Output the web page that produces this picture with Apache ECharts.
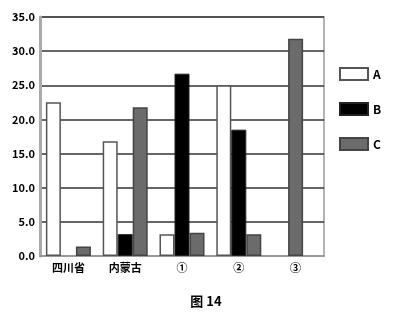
<!DOCTYPE html>
<html><head><meta charset="utf-8">
<script src="https://cdn.jsdelivr.net/npm/echarts@6/dist/echarts.min.js"></script>
<style>html,body{margin:0;padding:0;background:#fff}#c{width:412px;height:315px}</style>
</head><body><div id="c"></div>
<script>
var categories = ['四川省', '内蒙古', '①', '②', '③'];
var seriesA = [22.5, 16.8, 3.2, 25.0, 0];
var seriesB = [0, 3.2, 26.7, 18.5, 0];
var seriesC = [1.4, 21.8, 3.4, 3.2, 31.8];
var seriesNames = ['A', 'B', 'C'];
var yTicks = [0, 5, 10, 15, 20, 25, 30, 35];

function blankZero(arr) { return arr.map(function (v) { return v === 0 ? '-' : v; }); }
// where only C exists in a category, the original draws that C bar centred
var alone = seriesC.map(function (v, i) { return seriesA[i] === 0 && seriesB[i] === 0; });
var cGrouped = seriesC.map(function (v, i) { return alone[i] || v === 0 ? '-' : v; });
var cCentred = seriesC.map(function (v, i) { return alone[i] ? v : '-'; });

var chart = echarts.init(document.getElementById('c'));
var font = '"Noto Sans CJK SC", "DejaVu Sans", sans-serif';
var bw = 15;
var styleA = {color: '#fff', borderColor: '#555', borderWidth: 1.5};
var styleB = {color: '#000', borderColor: '#222', borderWidth: 1};
var styleC = {color: '#6b6b6b', borderColor: '#444', borderWidth: 1.5};
chart.setOption({
  animation: false,
  backgroundColor: '#fff',
  title: {text: '图 14', left: 'center', top: 290, textStyle: {fontSize: 13, fontWeight: 'bold', color: '#000', fontFamily: font}},
  legend: {
    orient: 'vertical', left: 334, top: 62, itemWidth: 28, itemHeight: 12, itemGap: 21, icon: 'rect',
    textStyle: {fontSize: 12, fontWeight: 'bold', color: '#000', fontFamily: font},
    data: seriesNames
  },
  grid: {left: 40, right: 88, top: 17, bottom: 59, show: true, borderColor: '#999', borderWidth: 1.5},
  xAxis: [{
    type: 'category', data: categories,
    axisLine: {lineStyle: {color: '#999', width: 2}},
    axisTick: {show: false},
    axisLabel: {fontSize: 11, fontWeight: 'bold', color: '#000', fontFamily: font, margin: 6}
  }, {
    type: 'category', data: categories, show: false, position: 'bottom'
  }],
  yAxis: {
    type: 'value', min: yTicks[0], max: yTicks[yTicks.length - 1], interval: yTicks[1] - yTicks[0],
    axisLine: {show: true, lineStyle: {color: '#aaa', width: 3}},
    axisTick: {show: false},
    axisLabel: {fontSize: 11, fontWeight: 'bold', color: '#000', fontFamily: font, margin: 5,
      formatter: function (v) { return v.toFixed(1); }},
    splitLine: {lineStyle: {color: '#333', width: 1.5}}
  },
  series: [
    {name: 'A', type: 'bar', data: blankZero(seriesA), barGap: '0%', barWidth: bw, itemStyle: styleA},
    {name: 'B', type: 'bar', data: blankZero(seriesB), barGap: '0%', barWidth: bw, itemStyle: styleB},
    {name: 'C', type: 'bar', data: cGrouped, barGap: '0%', barWidth: bw, itemStyle: styleC},
    {name: 'C', type: 'bar', xAxisIndex: 1, data: cCentred, barWidth: bw, itemStyle: styleC}
  ]
});
</script></body></html>
